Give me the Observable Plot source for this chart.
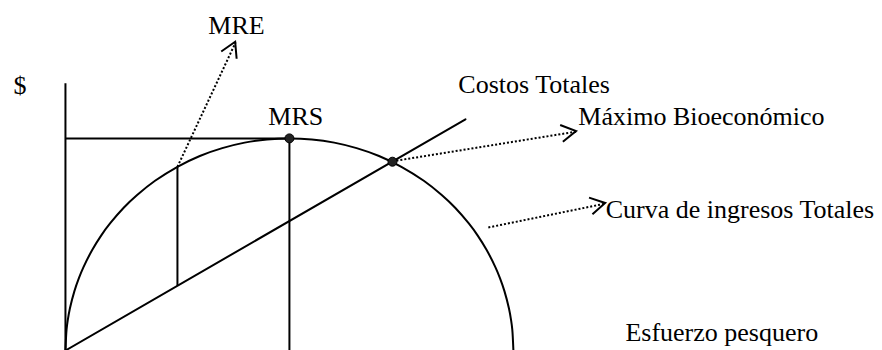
<!DOCTYPE html>
<html>
<head>
<meta charset="utf-8">
<script src="https://cdn.jsdelivr.net/npm/d3@7"></script>
<script src="https://cdn.jsdelivr.net/npm/@observablehq/plot@0.6"></script>
<style>
  html, body { margin: 0; padding: 0; background: #ffffff; }
  #chart svg { display: block; }
</style>
</head>
<body>
<div id="chart"></div>
<script>
// Total revenue curve (effort units 0–100, revenue units 0–100)
const effort  = [0, 0.25, 0.5, 1, 2, 3, 4, 6, 8, 10, 13, 16, 20, 25, 30, 35, 40, 45, 50, 55, 60, 65, 70, 75, 80, 84, 87, 90, 92, 94, 96, 97, 98, 99, 99.5, 99.75, 100];
const revenue = [0, 10, 14.1, 19.9, 28, 34.1, 39.2, 47.5, 54.3, 60, 67.3, 73.3, 80, 86.6, 91.7, 95.4, 98, 99.5, 100, 99.5, 98, 95.4, 91.7, 86.6, 80, 73.3, 67.3, 60, 54.3, 47.5, 39.2, 34.1, 28, 19.9, 14.1, 10, 0];

// Total cost line
const costEffort = [0, 89.3];
const costValue  = [0, 109];

// Key points
const mrsEffort = 50, mrsRevenue = 100;          // MRS
const bioEffort = 73, bioRevenue = 89;           // Máximo bioeconómico
const mreEffort = 25, mreRevenue = 86.6, mreCost = 30.5; // MRE
const axisTop = 126;

// Labels
const labelText   = ["$", "MRE", "MRS", "Costos Totales", "Máximo Bioeconómico", "Curva de ingresos Totales", "Esfuerzo pesquero"];
const labelEffort = [-11.6, 31.9, 45.3, 87.7, 114.5, 120.6, 125.0];
const labelValue  = [120.7, 149.4, 106.1, 121.2, 106.5, 62.7, 4.7];

// Dotted pointers: from -> to
const pointerFromE = [25, 73, 94.4];
const pointerFromV = [86.6, 89.2, 58];
const pointerToE   = [38, 114.1, 120.6];
const pointerToV   = [145.3, 103.2, 69.3];

const curveData = effort.map((e, i) => ({e, v: revenue[i]}));
const costData = costEffort.map((e, i) => ({e, v: costValue[i]}));
const labels = labelText.map((t, i) => ({t, e: labelEffort[i], v: labelValue[i]}));
const pointers = pointerFromE.map((e, i) => ({x1: e, y1: pointerFromV[i], x2: pointerToE[i], y2: pointerToV[i]}));
const segments = [
  {x1: 0, y1: 0, x2: 0, y2: axisTop},                          // vertical axis
  {x1: 0, y1: mrsRevenue, x2: mrsEffort, y2: mrsRevenue},      // horizontal to MRS
  {x1: mrsEffort, y1: mrsRevenue, x2: mrsEffort, y2: 0},       // vertical at MRS
  {x1: mreEffort, y1: mreRevenue, x2: mreEffort, y2: mreCost}  // vertical at MRE
];
const dots = [{e: mrsEffort, v: mrsRevenue}, {e: bioEffort, v: bioRevenue}];

function arrowHeads(index, scales) {
  const g = d3.create("svg:g")
    .attr("fill", "none")
    .attr("stroke", "#000")
    .attr("stroke-width", 2)
    .attr("stroke-linecap", "butt");
  const L = 17, h = Math.PI / 6;
  for (const a of pointers) {
    const x1 = scales.x(a.x1), y1 = scales.y(a.y1);
    const x2 = scales.x(a.x2), y2 = scales.y(a.y2);
    const ang = Math.atan2(y1 - y2, x1 - x2);
    g.append("path").attr("d",
      `M${x2 + L * Math.cos(ang + h)},${y2 + L * Math.sin(ang + h)}L${x2},${y2}L${x2 + L * Math.cos(ang - h)},${y2 + L * Math.sin(ang - h)}`);
  }
  return g.node();
}

const chart = Plot.plot({
  width: 882,
  height: 350,
  margin: 0,
  x: {domain: [-14.5, 182.4], axis: null},
  y: {domain: [0, 165], axis: null},
  style: {background: "#ffffff", fontFamily: "'Liberation Serif', 'Times New Roman', serif", color: "#000"},
  marks: [
    Plot.link(segments, {x1: "x1", y1: "y1", x2: "x2", y2: "y2", stroke: "#000", strokeWidth: 2}),
    Plot.line(curveData, {x: "e", y: "v", stroke: "#000", strokeWidth: 2, curve: "catmull-rom"}),
    Plot.line(costData, {x: "e", y: "v", stroke: "#000", strokeWidth: 2}),
    Plot.link(pointers, {x1: "x1", y1: "y1", x2: "x2", y2: "y2", stroke: "#000", strokeWidth: 2, strokeDasharray: "2,2"}),
    arrowHeads,
    Plot.dot(dots, {x: "e", y: "v", r: 4.5, fill: "#222", stroke: "#000", strokeWidth: 1}),
    Plot.text(labels, {x: "e", y: "v", text: "t", textAnchor: "start", lineAnchor: "bottom", fontSize: 26, fill: "#000"})
  ]
});
document.getElementById("chart").appendChild(chart);
</script>
</body>
</html>
